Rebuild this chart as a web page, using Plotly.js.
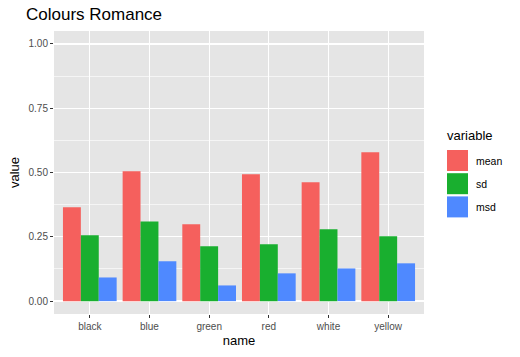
<!DOCTYPE html>
<html><head><meta charset="utf-8">
<script src="https://cdn.plot.ly/plotly-3.0.1.min.js"></script>
<style>html,body{margin:0;padding:0;background:#fff}#chart{width:520px;height:357px}</style>
</head><body><div id="chart"></div>
<script>
const categories = ["black","blue","green","red","white","yellow"];
const seriesNames = ["mean","sd","msd"];
const meanValues = [0.365,0.505,0.299,0.493,0.462,0.579];
const sdValues = [0.256,0.310,0.213,0.221,0.279,0.252];
const msdValues = [0.092,0.155,0.061,0.108,0.127,0.147];
const yTickVals = [0,0.25,0.5,0.75,1];
const yTickText = ["0.00","0.25","0.50","0.75","1.00"];
const colors = ["#F5605D","#19AF2F","#4F89FF"];
const allValues = [meanValues, sdValues, msdValues];

const font = "Liberation Sans, Arial, sans-serif";
const traces = seriesNames.map((n,i)=>({
  type:"bar", name:n, x:categories, y:allValues[i],
  marker:{color:colors[i], line:{width:0}}, showlegend:false, hoverinfo:"none"
}));

// legend drawn in pixel space
const W=520,H=357;
const shapes=[], annotations=[];
annotations.push({xref:"paper",yref:"paper",x:(445-54)/370,y:(314-135.5)/283,xanchor:"left",yanchor:"middle",
  text:"variable",showarrow:false,font:{family:font,size:13,color:"#000"}});
seriesNames.forEach((n,i)=>{
  const top=150+i*23.2, bot=top+21;
  shapes.push({type:"rect",xref:"paper",yref:"paper",
    x0:(447-54)/370,x1:(468-54)/370,y0:(314-bot)/283,y1:(314-top)/283,
    fillcolor:colors[i],line:{width:0}});
  annotations.push({xref:"paper",yref:"paper",x:(474-54)/370,y:(314-(top+bot)/2)/283,
    xanchor:"left",yanchor:"middle",text:n,showarrow:false,font:{family:font,size:10.5,color:"#000"}});
});

const layout={
  width:W,height:H,
  margin:{l:54,r:96,t:31,b:43,pad:0},
  paper_bgcolor:"#fff",plot_bgcolor:"#E5E5E5",
  barmode:"group",bargap:0.1,bargroupgap:0,
  title:{text:"Colours Romance",x:26/W,xref:"container",xanchor:"left",
    y:1-14.5/H,yref:"container",yanchor:"middle",font:{family:font,size:17,color:"#000"}},
  xaxis:{type:"category",range:[-0.6,5.6],showgrid:true,gridcolor:"#fff",gridwidth:1.3,
    ticks:"outside",ticklen:3,tickcolor:"#333",tickwidth:1,zeroline:false,showline:false,
    tickfont:{family:font,size:10,color:"#4d4d4d"},
    title:{text:"name",font:{family:font,size:13,color:"#000"},standoff:4}},
  yaxis:{range:[-0.05,1.05],tickvals:yTickVals,ticktext:yTickText,showgrid:true,gridcolor:"#fff",gridwidth:1.3,
    ticks:"outside",ticklen:3,tickcolor:"#333",tickwidth:1,zeroline:false,showline:false,
    tickfont:{family:font,size:10,color:"#4d4d4d"},
    minor:{tickmode:"linear",tick0:0.125,dtick:0.25,showgrid:true,gridcolor:"#fff",gridwidth:0.6,ticks:""},
    title:{text:"value",font:{family:font,size:13,color:"#000"},standoff:5}},
  shapes:shapes,annotations:annotations,showlegend:false
};
Plotly.newPlot("chart",traces,layout,{displayModeBar:false,staticPlot:true});
</script></body></html>
